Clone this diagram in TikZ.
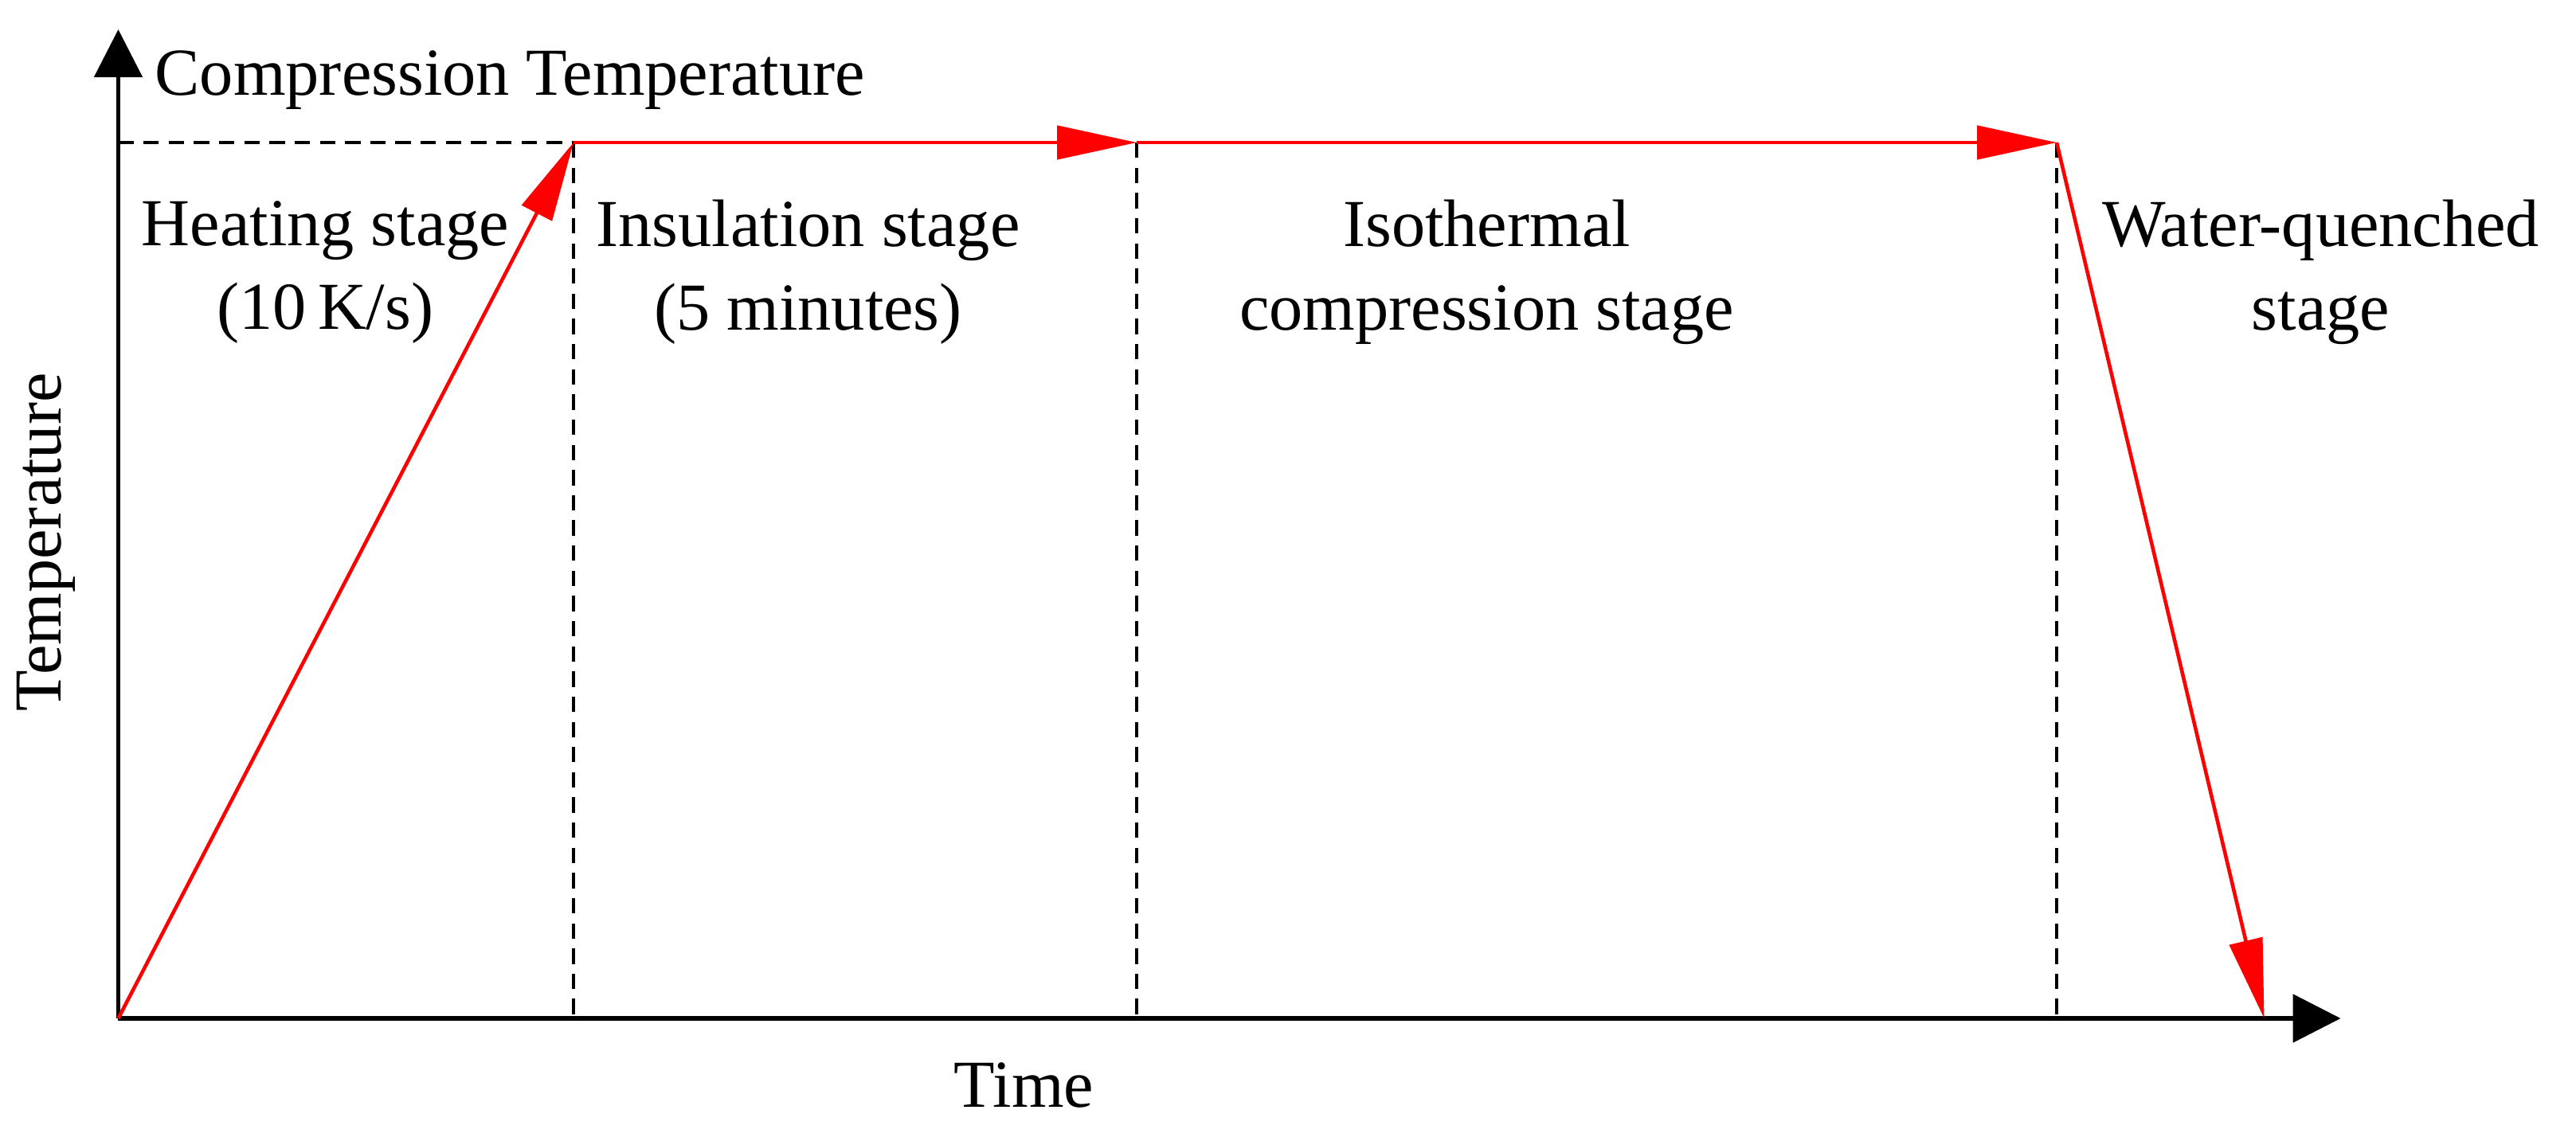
\documentclass[tikz,border=0pt]{standalone}
\usepackage{fontspec}
\setmainfont{Liberation Serif}
\usetikzlibrary{arrows.meta}

\begin{document}
\begin{tikzpicture}[font=\fontsize{24}{30}\selectfont,
		axis/.style={line width=1.5pt, -{Triangle[length=6mm,width=6mm]}},
		flow/.style={red, line width=1.3pt, -{Triangle[length=10mm,width=4.2mm]}},
		guide/.style={line width=1.3pt, dash pattern=on 5.5pt off 3.5pt},
		stage/.style={align=center}]
		\useasboundingbox (-1.485,-1.53) rectangle (30.855,12.79);

		\coordinate (o) at (0,0);
		\coordinate (ytip) at (0,12.42);
		\coordinate (xtip) at (27.9,0);
		\coordinate (t0) at (0,11);
		\coordinate (t1) at (5.715,11);
		\coordinate (t2) at (12.785,11);
		\coordinate (t3) at (24.335,11);
		\coordinate (b1) at (5.715,0);
		\coordinate (b2) at (12.785,0);
		\coordinate (b3) at (24.335,0);
		\coordinate (e) at (26.94,0);

		\draw[guide] (t0) -- (t1);
		\draw[guide] (t1) -- (b1);
		\draw[guide] (t2) -- (b2);
		\draw[guide] (t3) -- (b3);

		\draw[axis] (o) -- (ytip);
		\draw[axis] (o) -- (xtip);

		\draw[flow] (o) -- (t1);
		\draw[flow] (t1) -- (t2);
		\draw[flow] (t2) -- (t3);
		\draw[flow] (t3) -- (e);

		\node[anchor=base west, inner sep=0pt] (ct) at (0.455,11.59) {Compression Temperature};
		\node[stage] (heat) at (2.6,9.37) {Heating stage\\(10\,K/s)};
		\node[stage] (ins) at (8.66,9.37) {Insulation stage\\(5 minutes)};
		\node[stage] (iso) at (17.18,9.37) {Isothermal\\compression stage};
		\node[stage] (wq) at (27.65,9.37) {Water-quenched\\stage};
		\node[rotate=90] (temp) at (-0.91,5.98) {Temperature};
		\node[anchor=base] (time) at (11.37,-1.11) {Time};
	\end{tikzpicture}
\end{document}
